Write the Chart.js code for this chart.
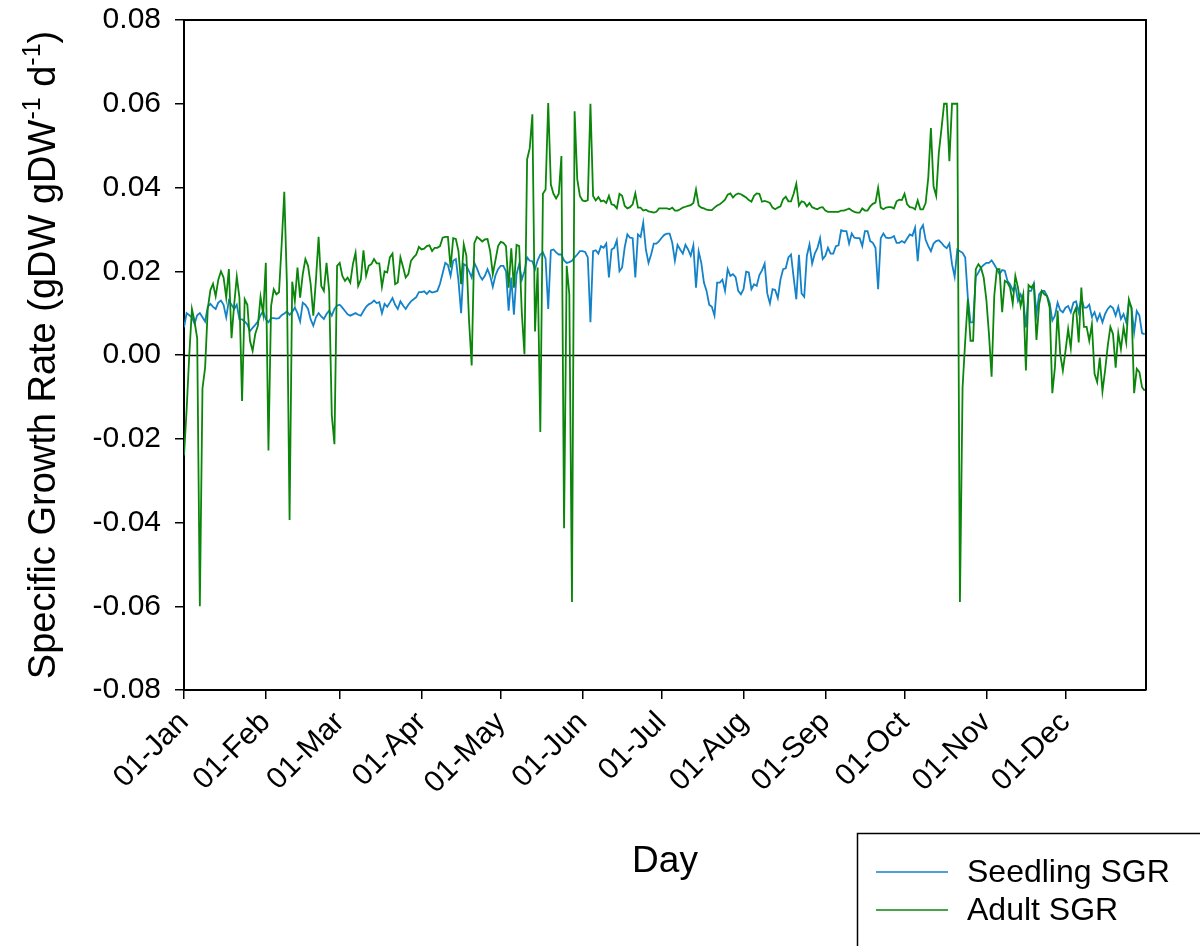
<!DOCTYPE html>
<html>
<head>
<meta charset="utf-8">
<title>Specific Growth Rate</title>
<script src="https://cdn.jsdelivr.net/npm/chart.js@4.4.1/dist/chart.umd.min.js"></script>
<style>
  html, body { margin: 0; padding: 0; background: #fff; }
  #wrap { width: 1200px; height: 946px; }
</style>
</head>
<body>
<div id="wrap"><canvas id="sgr" width="1200" height="946"></canvas></div>
<script>
// month tick positions (day of year) and their labels
const monthStarts = [1, 32, 60, 91, 121, 152, 182, 213, 244, 274, 305, 335];
const monthLabels = ['01-Jan', '01-Feb', '01-Mar', '01-Apr', '01-May', '01-Jun',
                     '01-Jul', '01-Aug', '01-Sep', '01-Oct', '01-Nov', '01-Dec'];
const yTicks = [-0.08, -0.06, -0.04, -0.02, 0, 0.02, 0.04, 0.06, 0.08];

// daily values, day 1 .. 365
const seedlingSGR = [
  0.0066, 0.0100, 0.0095, 0.0090, 0.0075, 0.0095, 0.0100, 0.0090, 0.0080, 0.0115,
  0.0122, 0.0115, 0.0110, 0.0125, 0.0130, 0.0120, 0.0090, 0.0130, 0.0120, 0.0110,
  0.0120, 0.0085, 0.0085, 0.0080, 0.0073, 0.0057, 0.0065, 0.0072, 0.0080, 0.0095,
  0.0105, 0.0085, 0.0078, 0.0088, 0.0088, 0.0087, 0.0088, 0.0095, 0.0099, 0.0104,
  0.0096, 0.0103, 0.0113, 0.0100, 0.0080, 0.0125, 0.0120, 0.0110, 0.0085, 0.0070,
  0.0090, 0.0100, 0.0092, 0.0086, 0.0098, 0.0106, 0.0094, 0.0110, 0.0118, 0.0120,
  0.0113, 0.0105, 0.0097, 0.0094, 0.0097, 0.0100, 0.0096, 0.0094, 0.0105, 0.0115,
  0.0121, 0.0124, 0.0130, 0.0124, 0.0126, 0.0100, 0.0122, 0.0115, 0.0125, 0.0136,
  0.0120, 0.0110, 0.0128, 0.0118, 0.0110, 0.0120, 0.0128, 0.0133, 0.0138, 0.0150,
  0.0150, 0.0152, 0.0146, 0.0153, 0.0149, 0.0151, 0.0153, 0.0170, 0.0195, 0.0220,
  0.0215, 0.0189, 0.0225, 0.0229, 0.0177, 0.0100, 0.0217, 0.0213, 0.0200, 0.0185,
  0.0220, 0.0207, 0.0190, 0.0180, 0.0189, 0.0205, 0.0189, 0.0163, 0.0190, 0.0205,
  0.0213, 0.0213, 0.0200, 0.0106, 0.0185, 0.0096, 0.0193, 0.0217, 0.0180, 0.0200,
  0.0233, 0.0225, 0.0224, 0.0205, 0.0226, 0.0240, 0.0245, 0.0230, 0.0110, 0.0250,
  0.0252, 0.0245, 0.0240, 0.0240, 0.0226, 0.0220, 0.0222, 0.0225, 0.0233, 0.0240,
  0.0248, 0.0248, 0.0246, 0.0233, 0.0078, 0.0248, 0.0250, 0.0242, 0.0260, 0.0256,
  0.0266, 0.0185, 0.0252, 0.0256, 0.0274, 0.0200, 0.0209, 0.0258, 0.0288, 0.0280,
  0.0279, 0.0185, 0.0288, 0.0282, 0.0316, 0.0252, 0.0220, 0.0240, 0.0266, 0.0266,
  0.0272, 0.0280, 0.0287, 0.0290, 0.0290, 0.0268, 0.0225, 0.0263, 0.0252, 0.0242,
  0.0263, 0.0252, 0.0237, 0.0262, 0.0161, 0.0247, 0.0220, 0.0173, 0.0153, 0.0120,
  0.0115, 0.0094, 0.0173, 0.0173, 0.0180, 0.0153, 0.0205, 0.0189, 0.0193, 0.0186,
  0.0153, 0.0145, 0.0157, 0.0199, 0.0197, 0.0157, 0.0169, 0.0165, 0.0191, 0.0202,
  0.0218, 0.0147, 0.0123, 0.0157, 0.0155, 0.0136, 0.0180, 0.0205, 0.0207, 0.0233,
  0.0240, 0.0185, 0.0133, 0.0239, 0.0147, 0.0139, 0.0237, 0.0264, 0.0218, 0.0242,
  0.0255, 0.0279, 0.0229, 0.0237, 0.0256, 0.0242, 0.0242, 0.0260, 0.0262, 0.0298,
  0.0296, 0.0296, 0.0266, 0.0290, 0.0280, 0.0279, 0.0279, 0.0260, 0.0296, 0.0296,
  0.0272, 0.0268, 0.0256, 0.0157, 0.0279, 0.0290, 0.0280, 0.0279, 0.0280, 0.0284,
  0.0268, 0.0268, 0.0272, 0.0268, 0.0278, 0.0288, 0.0285, 0.0304, 0.0224, 0.0299,
  0.0310, 0.0275, 0.0260, 0.0248, 0.0266, 0.0272, 0.0274, 0.0268, 0.0260, 0.0255,
  0.0266, 0.0217, 0.0187, 0.0252, 0.0248, 0.0244, 0.0233, 0.0137, 0.0078, 0.0078,
  0.0187, 0.0197, 0.0209, 0.0215, 0.0220, 0.0220, 0.0226, 0.0216, 0.0205, 0.0193,
  0.0203, 0.0201, 0.0177, 0.0169, 0.0155, 0.0165, 0.0129, 0.0145, 0.0130, 0.0066,
  0.0153, 0.0153, 0.0171, 0.0098, 0.0145, 0.0153, 0.0153, 0.0141, 0.0125, 0.0082,
  0.0094, 0.0125, 0.0107, 0.0102, 0.0113, 0.0117, 0.0102, 0.0125, 0.0128, 0.0102,
  0.0137, 0.0113, 0.0113, 0.0120, 0.0091, 0.0102, 0.0082, 0.0098, 0.0078, 0.0098,
  0.0110, 0.0117, 0.0112, 0.0094, 0.0115, 0.0086, 0.0098, 0.0078, 0.0125, 0.0113,
  0.0054, 0.0105, 0.0094, 0.0052, 0.0050
];

const adultSGR = [
  -0.0240, -0.0130, 0.0000, 0.0110, 0.0080, 0.0040, -0.0600, -0.0080, -0.0030, 0.0110,
  0.0155, 0.0170, 0.0140, 0.0180, 0.0200, 0.0185, 0.0137, 0.0205, 0.0040, 0.0120,
  0.0187, 0.0137, -0.0110, 0.0133, 0.0120, 0.0034, 0.0010, 0.0050, 0.0070, 0.0139,
  0.0098, 0.0220, -0.0228, 0.0117, 0.0157, 0.0145, 0.0150, 0.0264, 0.0390, 0.0169,
  -0.0394, 0.0175, 0.0129, 0.0209, 0.0137, 0.0193, 0.0229, 0.0213, 0.0169, 0.0094,
  0.0180, 0.0282, 0.0165, 0.0153, 0.0220, 0.0153, -0.0144, -0.0213, 0.0213, 0.0220,
  0.0189, 0.0177, 0.0185, 0.0173, 0.0217, 0.0244, 0.0165, 0.0180, 0.0250, 0.0189,
  0.0213, 0.0217, 0.0229, 0.0219, 0.0219, 0.0163, 0.0200, 0.0197, 0.0233, 0.0242,
  0.0169, 0.0173, 0.0233, 0.0210, 0.0185, 0.0193, 0.0225, 0.0233, 0.0240, 0.0258,
  0.0252, 0.0254, 0.0260, 0.0262, 0.0248, 0.0256, 0.0256, 0.0260, 0.0280, 0.0282,
  0.0282, 0.0209, 0.0279, 0.0277, 0.0248, 0.0169, 0.0264, 0.0237, 0.0082, -0.0025,
  0.0267, 0.0282, 0.0277, 0.0271, 0.0276, 0.0277, 0.0248, 0.0193, 0.0226, 0.0260,
  0.0270, 0.0268, 0.0260, 0.0161, 0.0255, 0.0161, 0.0263, 0.0260, 0.0100, 0.0002,
  0.0467, 0.0494, 0.0575, 0.0056, 0.0209, -0.0184, 0.0385, 0.0395, 0.0602, 0.0407,
  0.0385, 0.0374, 0.0385, 0.0475, -0.0414, 0.0213, 0.0145, -0.0590, 0.0582, 0.0420,
  0.0380, 0.0369, 0.0367, 0.0370, 0.0600, 0.0380, 0.0369, 0.0377, 0.0367, 0.0369,
  0.0363, 0.0380, 0.0360, 0.0358, 0.0350, 0.0385, 0.0380, 0.0356, 0.0350, 0.0353,
  0.0360, 0.0386, 0.0352, 0.0352, 0.0345, 0.0347, 0.0343, 0.0342, 0.0340, 0.0342,
  0.0350, 0.0350, 0.0350, 0.0350, 0.0348, 0.0352, 0.0345, 0.0345, 0.0348, 0.0352,
  0.0354, 0.0356, 0.0358, 0.0363, 0.0395, 0.0357, 0.0352, 0.0350, 0.0347, 0.0346,
  0.0346, 0.0352, 0.0357, 0.0360, 0.0365, 0.0371, 0.0383, 0.0386, 0.0376, 0.0383,
  0.0386, 0.0384, 0.0380, 0.0376, 0.0370, 0.0366, 0.0380, 0.0386, 0.0385, 0.0366,
  0.0368, 0.0366, 0.0363, 0.0352, 0.0348, 0.0352, 0.0355, 0.0372, 0.0378, 0.0367,
  0.0367, 0.0385, 0.0409, 0.0357, 0.0367, 0.0365, 0.0355, 0.0363, 0.0353, 0.0350,
  0.0348, 0.0352, 0.0353, 0.0345, 0.0342, 0.0342, 0.0342, 0.0342, 0.0342, 0.0345,
  0.0345, 0.0347, 0.0350, 0.0345, 0.0342, 0.0340, 0.0340, 0.0350, 0.0345, 0.0345,
  0.0355, 0.0361, 0.0364, 0.0399, 0.0352, 0.0348, 0.0352, 0.0353, 0.0353, 0.0350,
  0.0367, 0.0371, 0.0370, 0.0385, 0.0360, 0.0353, 0.0352, 0.0348, 0.0369, 0.0348,
  0.0348, 0.0363, 0.0423, 0.0542, 0.0403, 0.0380, 0.0483, 0.0540, 0.0600, 0.0600,
  0.0463, 0.0600, 0.0600, 0.0600, -0.0590, -0.0077, 0.0034, 0.0133, 0.0034, 0.0034,
  0.0205, 0.0217, 0.0208, 0.0185, 0.0133, 0.0050, -0.0052, 0.0141, 0.0205, 0.0205,
  0.0102, 0.0177, 0.0173, 0.0161, 0.0123, 0.0189, 0.0161, 0.0117, 0.0145, -0.0037,
  0.0167, 0.0161, 0.0169, 0.0036, 0.0121, 0.0153, 0.0145, 0.0141, 0.0113, -0.0091,
  -0.0029, 0.0106, 0.0002, -0.0037, 0.0010, 0.0062, 0.0017, 0.0098, 0.0113, 0.0030,
  0.0161, 0.0067, 0.0067, 0.0034, 0.0073, -0.0045, -0.0065, -0.0006, -0.0087, -0.0037,
  0.0022, 0.0067, 0.0050, -0.0030, 0.0052, 0.0014, 0.0066, 0.0030, 0.0133, 0.0113,
  -0.0091, -0.0033, -0.0041, -0.0077, -0.0085
];

const FONT = "'Liberation Sans', Arial, Helvetica, sans-serif";
const BLUE = '#1382c8';
const GREEN = '#0a860a';

const toPoints = (vals) => vals.map((v, i) => ({ x: i + 1, y: v }));

// axis titles, zero line, frame and legend box
const decorations = {
  id: 'decorations',
  beforeDatasetsDraw(chart) {
    const { ctx, chartArea: a, scales } = chart;
    const y0 = Math.round(scales.y.getPixelForValue(0)) + 0.5;
    ctx.save();
    ctx.strokeStyle = '#000';
    ctx.lineWidth = 1.5;
    ctx.beginPath();
    ctx.moveTo(a.left, y0);
    ctx.lineTo(a.right, y0);
    ctx.stroke();
    ctx.restore();
  },
  afterDraw(chart) {
    const { ctx, chartArea: a } = chart;
    ctx.save();
    ctx.strokeStyle = '#000';
    ctx.lineWidth = 2;
    ctx.beginPath();
    ctx.moveTo(a.left, a.top);
    ctx.lineTo(a.right, a.top);
    ctx.lineTo(a.right, a.bottom);
    ctx.stroke();

    ctx.fillStyle = '#000';
    ctx.textBaseline = 'middle';

    // x title
    ctx.font = '37px ' + FONT;
    ctx.textAlign = 'center';
    ctx.fillText('Day', (a.left + a.right) / 2, 862);

    // y title with superscripts
    const parts = [
      ['Specific Growth Rate (gDW gDW', false],
      ['-1', true],
      [' d', false],
      ['-1', true],
      [')', false]
    ];
    const big = '38px ' + FONT, small = '25px ' + FONT;
    let total = 0;
    parts.forEach(([t, sup]) => { ctx.font = sup ? small : big; total += ctx.measureText(t).width; });
    ctx.translate(42, (a.top + a.bottom) / 2);
    ctx.rotate(-Math.PI / 2);
    ctx.textAlign = 'left';
    ctx.textBaseline = 'alphabetic';
    let x = -total / 2;
    parts.forEach(([t, sup]) => {
      ctx.font = sup ? small : big;
      ctx.fillText(t, x, sup ? -2 : 13);
      x += ctx.measureText(t).width;
    });
    ctx.setTransform(1, 0, 0, 1, 0, 0);

    // legend
    ctx.lineWidth = 1.5;
    ctx.strokeRect(857.5, 833.5, 400, 200);
    const items = chart.data.datasets;
    items.forEach((ds, i) => {
      const ly = 872 + i * 38;
      ctx.strokeStyle = ds.borderColor;
      ctx.lineWidth = 1.5;
      ctx.beginPath();
      ctx.moveTo(876, ly);
      ctx.lineTo(948, ly);
      ctx.stroke();
      ctx.font = '32px ' + FONT;
      ctx.textAlign = 'left';
      ctx.textBaseline = 'middle';
      ctx.fillText(ds.label, 967, ly + 1);
    });
    ctx.restore();
  }
};

new Chart(document.getElementById('sgr'), {
  type: 'line',
  data: {
    datasets: [
      {
        label: 'Seedling SGR',
        data: toPoints(seedlingSGR),
        borderColor: BLUE,
        borderWidth: 1.8,
        pointRadius: 0,
        tension: 0,
        order: 1
      },
      {
        label: 'Adult SGR',
        data: toPoints(adultSGR),
        borderColor: GREEN,
        borderWidth: 1.8,
        pointRadius: 0,
        tension: 0,
        order: 0
      }
    ]
  },
  options: {
    responsive: false,
    animation: false,
    layout: { padding: { top: 20, right: 54, left: 0, bottom: 0 } },
    plugins: {
      legend: { display: false },
      tooltip: { enabled: false }
    },
    scales: {
      x: {
        type: 'linear',
        min: 1,
        max: 365.5,
        afterBuildTicks: (scale) => { scale.ticks = monthStarts.map(v => ({ value: v })); },
        afterFit: (scale) => {
          scale.height = 256;
          scale.paddingLeft = 0;
          scale.paddingRight = 0;
        },
        ticks: {
          autoSkip: false,
          maxRotation: 45,
          minRotation: 45,
          padding: 6,
          color: '#000',
          font: { family: FONT, size: 30 },
          callback: (v) => monthLabels[monthStarts.indexOf(v)]
        },
        grid: { drawOnChartArea: false, drawTicks: true, tickLength: 9, color: '#000', lineWidth: 1.5 },
        border: { color: '#000', width: 2 }
      },
      y: {
        type: 'linear',
        min: -0.08,
        max: 0.08,
        afterBuildTicks: (scale) => { scale.ticks = yTicks.map(v => ({ value: v })); },
        afterFit: (scale) => {
          scale.width = 184;
          scale.paddingTop = 0;
          scale.paddingBottom = 0;
        },
        ticks: {
          padding: 14,
          color: '#000',
          font: { family: FONT, size: 30 },
          callback: (v) => (Math.abs(v) < 1e-9 ? 0 : v).toFixed(2)
        },
        grid: { drawOnChartArea: false, drawTicks: true, tickLength: 9, color: '#000', lineWidth: 1.5 },
        border: { color: '#000', width: 2 }
      }
    }
  },
  plugins: [decorations]
});
</script>
</body>
</html>
